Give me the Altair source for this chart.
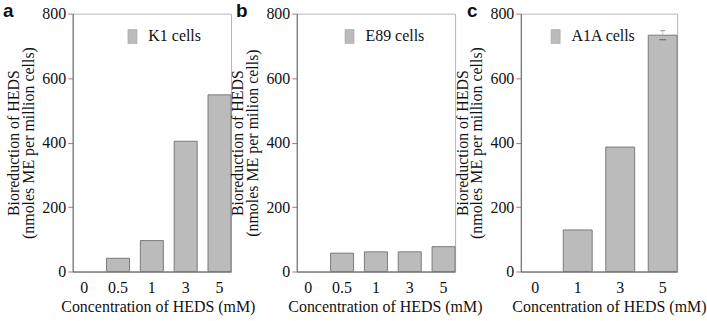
import altair as alt
import pandas as pd

# ---- data ----
cats_a = ["0", "0.5", "1", "3", "5"]
vals_a = [0, 41, 96, 404, 548]
cats_b = ["0", "0.5", "1", "3", "5"]
vals_b = [0, 57, 61, 61, 77]
cats_c = ["0", "1", "3", "5"]
vals_c = [0, 129, 386, 733]
err_c = [0, 0, 0, 14]

series = ["K1 cells", "E89 cells", "A1A cells"]
letters = ["a", "b", "c"]
ytitles = [
    ["Bioreduction of HEDS", "(nmoles ME per million cells)"],
    ["Bioreduction of HEDS", "(nmoles ME per milion cells)"],
    ["Bioreduction of HEDS", "(nmoles ME per million cells)"],
]
xtitle = "Concentration of HEDS (mM)"
yticks = [0, 200, 400, 600, 800]

SERIF = "Liberation Serif"
FILL = "#bbbbbb"
STROKE = "#7a7a7a"
TXT = "#111111"


def panel(cats, vals, name, letter, ytitle, width, letter_dx, lx, tshift, errs=None):
    df = pd.DataFrame({"conc": cats, "value": vals, "series": name})
    x = alt.X("conc:N", sort=cats,
              scale=alt.Scale(paddingInner=0.32, paddingOuter=0.0),
              axis=alt.Axis(title=xtitle, labelAngle=0, ticks=False,
                            labelPadding=8, titlePadding=3,
                            titleX=width / 2 + tshift,
                            domainColor="#555555",
                            labelFont=SERIF, labelFontSize=16, labelColor=TXT,
                            titleFont=SERIF, titleFontSize=16,
                            titleFontWeight="normal", titleColor=TXT))
    y = alt.Y("value:Q", scale=alt.Scale(domain=[0, 800], nice=False),
              axis=alt.Axis(title=ytitle, values=yticks, grid=False,
                            tickSize=5, tickColor="#888888",
                            domainColor="#666666", labelPadding=2,
                            titlePadding=5,
                            labelFont=SERIF, labelFontSize=16, labelColor=TXT,
                            titleFont=SERIF, titleFontSize=16,
                            titleFontWeight="normal", titleColor=TXT,
                            titleLineHeight=15))
    bars = alt.Chart(df).mark_bar(strokeWidth=1).encode(
        x=x, y=y,
        stroke=alt.condition(alt.datum.value > 0, alt.value(STROKE),
                             alt.value("transparent")),
        color=alt.Color("series:N",
                        scale=alt.Scale(domain=[name], range=[FILL]),
                        legend=alt.Legend(title=None, orient="none",
                                          legendX=lx, legendY=15,
                                          symbolType="M-0.65,-1H0.65V1H-0.65Z",
                                          symbolSize=196,
                                          symbolStrokeColor="#999999",
                                          symbolStrokeWidth=0.5,
                                          labelFont=SERIF, labelFontSize=16,
                                          labelColor=TXT,
                                          labelOffset=8)),
    )
    lab = alt.Chart(pd.DataFrame({"t": [letter]})).mark_text(
        font="Liberation Sans", fontSize=19, fontWeight="bold",
        align="left", baseline="top", color=TXT
    ).encode(text="t:N", x=alt.value(letter_dx), y=alt.value(-12))
    layers = [bars, lab]
    if errs is not None:
        edf = pd.DataFrame({"conc": cats, "lo": [v - e for v, e in zip(vals, errs)],
                            "hi": [v + e for v, e in zip(vals, errs)],
                            "e": errs})
        edf = edf[edf["e"] > 0]
        rule = alt.Chart(edf).mark_rule(color="#aaaaaa", strokeWidth=0.6).encode(
            x=alt.X("conc:N", sort=cats), y="lo:Q", y2="hi:Q")
        t1 = alt.Chart(edf).mark_tick(color="#666666", size=5, thickness=1,
                                      orient="horizontal").encode(
            x=alt.X("conc:N", sort=cats), y="hi:Q")
        t2 = alt.Chart(edf).mark_tick(color="#444444", size=7, thickness=1,
                                      orient="horizontal").encode(
            x=alt.X("conc:N", sort=cats), y="lo:Q")
        layers += [rule, t1, t2]
    return alt.layer(*layers).properties(width=width, height=259)


pa = panel(cats_a, vals_a, series[0], letters[0], ytitles[0], 159, -70, 52, 6)
pb = panel(cats_b, vals_b, series[1], letters[1], ytitles[1], 159, -61, 45, 9)
pc = panel(cats_c, vals_c, series[2], letters[2], ytitles[2], 157, -54, 27, 10, err_c)

chart = alt.hconcat(pa, pb, pc, spacing=66, bounds="flush").resolve_scale(
    color="independent"
).properties(
    padding={"left": 2, "top": 0, "right": 0, "bottom": 2},
    background="white",
).configure_view(stroke="#b5b5b5", strokeWidth=1)

chart.save("out.html", embed_options={"renderer": "svg", "actions": False})
